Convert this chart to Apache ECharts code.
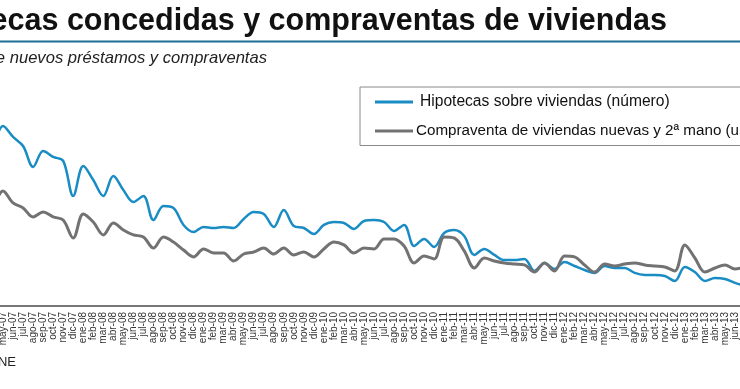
<!DOCTYPE html>
<html>
<head>
<meta charset="utf-8">
<script src="https://cdn.jsdelivr.net/npm/echarts@6/dist/echarts.min.js"></script>
<style>
html,body{margin:0;padding:0;background:#fff;}
#chart{width:740px;height:389px;}
</style>
</head>
<body>
<div id="chart"></div>
<script>
const categories = [
 'abr-07','may-07','jun-07','jul-07','ago-07','sep-07','oct-07','nov-07','dic-07',
 'ene-08','feb-08','mar-08','abr-08','may-08','jun-08','jul-08','ago-08','sep-08','oct-08','nov-08','dic-08',
 'ene-09','feb-09','mar-09','abr-09','may-09','jun-09','jul-09','ago-09','sep-09','oct-09','nov-09','dic-09',
 'ene-10','feb-10','mar-10','abr-10','may-10','jun-10','jul-10','ago-10','sep-10','oct-10','nov-10','dic-10',
 'ene-11','feb-11','mar-11','abr-11','may-11','jun-11','jul-11','ago-11','sep-11','oct-11','nov-11','dic-11',
 'ene-12','feb-12','mar-12','abr-12','may-12','jun-12','jul-12','ago-12','sep-12','oct-12','nov-12','dic-12',
 'ene-13','feb-13','mar-13','abr-13','may-13','jun-13','jul-13'
];
// miles de operaciones
const hipotecas = [
 117.0,135.0,126.8,120.0,104.3,116.3,111.8,108.8,82.5,
 105.0,94.5,82.5,97.5,87.0,78.0,82.5,64.5,75.0,73.5,60.8,55.5,
 59.3,58.5,59.3,58.5,65.3,70.5,69.0,59.3,72.0,60.0,58.5,54.0,
 60.8,63.0,62.3,57.8,63.8,64.5,63.0,56.3,60.8,45.0,50.3,44.3,
 54.8,57.0,52.5,38.3,42.8,38.3,34.5,34.5,35.3,26.3,32.3,27.8,
 33.0,30.0,27.0,24.8,30.0,28.5,28.5,24.8,23.3,23.3,22.5,18.8,
 29.3,25.5,18.8,21.0,20.3,17.3,15.0
];
const compraventas = [
 72.0,86.3,77.3,73.5,66.8,70.5,66.8,64.5,51.0,
 69.0,63.0,53.3,62.3,57.0,53.3,51.8,43.5,51.8,48.0,42.0,36.8,
 42.8,39.8,39.8,33.8,39.0,40.5,43.5,39.0,43.5,38.3,40.5,36.8,
 42.8,48.0,45.8,39.8,43.5,42.8,50.3,50.3,45.0,32.3,37.5,35.3,
 51.8,51.0,41.3,28.5,36.0,33.8,32.3,31.5,30.8,25.5,32.3,26.3,
 37.5,36.8,30.8,25.5,31.5,30.0,31.5,32.3,30.8,30.0,29.3,26.3,
 45.8,36.0,25.5,28.5,30.8,27.8,29.3
];
const seriesNames = ['Hipotecas sobre viviendas (número)', 'Compraventa de viviendas nuevas y 2ª mano (unidades)'];
const titleText = 'Hipotecas concedidas y compraventas de viviendas';
const subtitleText = 'Número de nuevos préstamos y compraventas';
const sourceText = 'Fuente: INE';

const chart = echarts.init(document.getElementById('chart'), null, {renderer: 'canvas'});
const FONT = '"Liberation Sans", Arial, sans-serif';
chart.setOption({
  animation: false,
  backgroundColor: '#ffffff',
  graphic: [
    {type: 'text', right: 740 - 667, top: 6, style: {text: titleText, font: 'bold 30.5px ' + FONT, fill: '#111', align: 'right'}},
    {type: 'line', shape: {x1: 0, y1: 41.5, x2: 740, y2: 41.5}, style: {stroke: '#1d6f97', lineWidth: 2}},
    {type: 'text', right: 740 - 267, top: 50, style: {text: subtitleText, font: 'italic 16.6px ' + FONT, fill: '#222', align: 'right'}},
    {type: 'text', right: 740 - 16, top: 356, style: {text: sourceText, font: '13px ' + FONT, fill: '#222', align: 'right'}}
  ],
  legend: {
    orient: 'vertical',
    left: 360,
    top: 87,
    padding: [7, 10, 7, 15],
    itemGap: 13.5,
    itemWidth: 38,
    itemHeight: 3,
    icon: 'rect',
    borderColor: '#8a8a8a',
    borderWidth: 1,
    borderRadius: 0,
    textStyle: {fontSize: 15.5, fontFamily: FONT, color: '#111'},
    data: [
      {name: seriesNames[0], textStyle: {fontSize: 15.6, padding: [0, 0, 0, 2]}},
      {name: seriesNames[1], textStyle: {fontSize: 15.2, padding: [0, 0, 0, -2]}}
    ]
  },
  grid: {left: -7, right: -5, top: 66, bottom: 83, containLabel: false, outerBoundsMode: 'none'},
  xAxis: {
    type: 'category',
    data: categories,
    boundaryGap: false,
    axisLine: {lineStyle: {color: '#777', width: 2}},
    axisTick: {show: false},
    axisLabel: {interval: 0, rotate: 90, fontSize: 10, fontFamily: FONT, color: '#333', margin: 6}
  },
  yAxis: {
    type: 'value', min: 0, max: 180, show: false,
    splitLine: {show: false}
  },
  series: [
    {name: seriesNames[0], type: 'line', data: hipotecas, smooth: 0.35, symbol: 'none',
     lineStyle: {color: '#1a8cc4', width: 2.5}, itemStyle: {color: '#1a8cc4'}},
    {name: seriesNames[1], type: 'line', data: compraventas, smooth: 0.35, symbol: 'none',
     lineStyle: {color: '#727272', width: 3}, itemStyle: {color: '#727272'}}
  ]
});
</script>
</body>
</html>
